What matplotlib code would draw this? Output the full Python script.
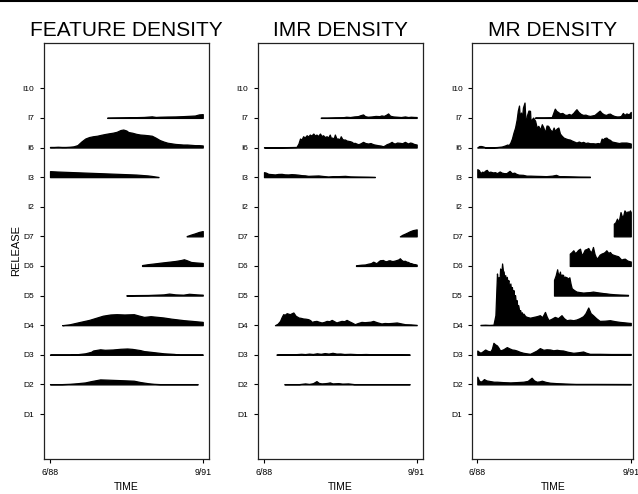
import matplotlib
matplotlib.use("Agg")
import matplotlib.pyplot as plt
from matplotlib.lines import Line2D
import numpy as np

plt.rcParams["font.family"] = ["Liberation Sans", "DejaVu Sans"]

# rows from bottom to top
RELEASES = ["D1", "D2", "D3", "D4", "D5", "D6", "D7", "I2", "I3", "I6", "I7", "I10"]
TIME_TICKS = [0, 39]          # months since 6/88
TIME_LABELS = ["6/88", "9/91"]
TITLES = ["FEATURE DENSITY", "IMR DENSITY", "MR DENSITY"]

# density per release as (month since 6/88, density) pairs
FEATURE = {
    "D2": [(0, 0.3), (3, 0.3), (5, 0.6), (7, 1.2), (9, 2), (10.5, 3.3), (12, 4.4), (12.8, 5),
           (15, 4.7), (17, 4.4), (19, 4.1), (21.4, 3.7), (23, 2.4), (25, 1.2), (26.5, 0.6),
           (28, 0.3), (37.7, 0.3)],
    "D3": [(0, 0.3), (5, 0.3), (7, 0.6), (9, 1.5), (10.5, 3), (11, 4.3), (12.8, 5.5), (14, 5),
           (16, 5.3), (18, 6), (19.7, 6.3), (21, 5.9), (23, 4.7), (24, 3.7), (25, 3.3),
           (27, 2.4), (29, 1.5), (31.6, 0.9), (33, 0.3), (39, 0.3)],
    "D4": [(3.1, 0), (5, 0.9), (7.7, 3.3), (10, 5.3), (12, 7.7), (13.5, 9.5), (15.4, 10.7),
           (17, 11), (19, 10.7), (21.4, 11), (22.5, 9.8), (24, 8.3), (25.7, 9), (29, 7.7),
           (31, 6.5), (34.2, 5), (36, 4.4), (39, 3.3)],
    "D5": [(19.5, 0.3), (22, 0.5), (25, 0.6), (27, 0.9), (29, 1.2), (30.4, 2), (32, 1.2),
           (34, 0.9), (35.5, 1.8), (37.5, 1.2), (39, 0.9)],
    "D6": [(23.5, 0.9), (25, 1.8), (27, 2.7), (28.2, 3.3), (30, 4.1), (32, 5), (33.5, 6),
           (34.2, 6.7), (35, 5.6), (36, 4), (37, 3.6), (38, 3.3), (39, 3)],
    "D7": [(34.9, 0.3), (36, 1.8), (37, 3), (38, 4.4), (39, 5.3)],
    "I3": [(0, 6), (2, 5.6), (4, 5.3), (6, 5), (8, 4.7), (10, 4.4), (12, 4.1), (14, 3.8),
           (16, 3.5), (18, 3.2), (20, 2.9), (22, 2.6), (24, 2), (25, 1.7), (26, 1.2),
           (27, 0.6), (27.7, 0.2)],
    "I6": [(0, 0.6), (1, 0.6), (2, 0.8), (3, 0.6), (4, 0.6), (5, 0.8), (6, 1.2), (7, 2.4),
           (8, 6), (9, 9), (10, 10.5), (11, 11.3), (12, 11.8), (13, 12.7), (14, 13.5),
           (15, 14.2), (16, 14.8), (17, 15.7), (18, 17.5), (18.7, 18), (19.5, 17), (20, 15.5),
           (21, 14.8), (22, 13.7), (23, 13), (24, 12.7), (25, 12.3), (26, 11.8), (27, 9.8),
           (28, 7.5), (29, 6), (30, 4.8), (31, 4.2), (32, 3.6), (33, 3.3), (34, 3), (35, 3),
           (36, 2.7), (37, 2.4), (38, 2.4), (39, 2.1)],
    "I7": [(14.6, 0.3), (16, 0.4), (18, 0.5), (20, 0.6), (22, 0.8), (24, 1), (26, 1.6),
           (27, 1), (28, 1.2), (30, 1.4), (32, 1.5), (34, 1.8), (36, 2.2), (37, 2.4),
           (38, 3.5), (39, 3.8)],
}

IMR = {
    "D2": [(5.2, 0.3), (9, 0.3), (10.5, 1), (11.5, 0.5), (12.5, 1.2), (13.4, 3.3), (14, 1.5),
           (14.7, 1), (15.5, 1.2), (16.2, 1.5), (16.8, 2), (17.5, 1), (19, 1.3), (20, 0.8),
           (21.5, 1), (23, 0.3), (37.2, 0.3)],
    "D3": [(3.2, 0.3), (6, 0.5), (8, 0.6), (9.5, 1), (10.5, 0.7), (11.5, 1.2), (12.5, 0.8),
           (13.5, 1.5), (14.5, 1), (15.5, 1.7), (16.5, 1.2), (17.5, 2), (18.5, 1.2),
           (19.5, 1.3), (20.5, 0.8), (22, 1), (24, 0.6), (26, 0.8), (28, 0.5), (30, 0.6),
           (33, 0.4), (37.2, 0.3)],
    "D4": [(2.8, 0), (3.5, 1.5), (4.1, 4.3), (4.5, 8), (4.9, 11), (5.3, 10.5), (5.8, 12),
           (6.2, 11.5), (6.6, 11), (7.1, 12), (7.5, 12.7), (8.1, 9.3), (8.5, 8.5), (8.8, 7.7),
           (9.4, 7.3), (10, 6.7), (10.6, 6.5), (11.3, 6), (11.8, 5), (12.2, 3.3), (12.8, 4),
           (13.4, 4.3), (14, 3.5), (14.7, 2.7), (15.3, 3.2), (16, 4.3), (16.7, 4), (17.3, 5.3),
           (17.9, 4), (18.5, 2.7), (19.1, 3.5), (19.8, 4.3), (20.5, 4), (21.1, 5.3), (21.7, 4),
           (22.4, 2.7), (23.2, 1), (24, 2.2), (24.9, 3.3), (25.7, 3), (26.6, 3.3), (27.2, 3.5),
           (27.9, 4.3), (28.8, 3), (30, 1.7), (30.8, 2.2), (31.7, 2), (32.8, 2.3), (33.9, 2.7),
           (35, 1.8), (36, 1), (37.5, 0.8), (39, 0.3)],
    "D6": [(23.5, 0.7), (24.9, 1.3), (25.8, 1.5), (26.6, 2.3), (27.3, 2.8), (27.9, 4.3),
           (28.7, 2.7), (29.2, 4.5), (29.6, 5.7), (30.4, 6), (30.8, 5), (31.3, 4.7), (31.7, 5.5),
           (32.1, 5.7), (32.6, 5), (33, 5), (33.5, 5.5), (33.9, 6), (34.3, 6.5), (34.7, 7.7),
           (35.1, 6), (35.5, 5), (36, 5.2), (36.4, 4.3), (36.8, 4), (37.2, 3), (37.6, 2.8),
           (38.1, 2), (38.6, 1.8), (39, 1.3)],
    "D7": [(34.7, 0), (35.3, 1.5), (36, 2.7), (36.6, 3.8), (37.2, 5), (38, 6.2), (39, 7)],
    "I3": [(0, 5), (0.5, 4.5), (1.1, 3.3), (2, 3), (2.8, 2.7), (3.6, 3.2), (4.5, 3.3),
           (5.3, 2.8), (6.2, 2.7), (7, 3), (7.9, 2.8), (8.7, 2.5), (9.6, 2), (10.5, 1.8),
           (11.3, 1.3), (12.5, 1.5), (13.9, 1.7), (15, 1.2), (16.4, 0.7), (17.5, 1), (19, 1),
           (20.7, 1.3), (22, 0.8), (23.2, 0.7), (25, 0.6), (26.5, 0.5), (28.3, 0.3)],
    "I6": [(0, 0.3), (4, 0.3), (7, 0.5), (8.3, 0.6), (8.8, 4), (9.2, 9), (9.6, 8), (10, 11.3),
           (10.4, 10), (10.9, 12.3), (11.3, 11), (11.7, 13), (12.1, 12), (12.6, 14), (13, 12),
           (13.4, 13), (13.8, 11.5), (14.3, 14), (14.7, 11.5), (15.1, 12.3), (15.5, 10.5),
           (16, 11.3), (16.4, 10), (16.8, 13), (17.1, 9.5), (17.4, 10), (17.8, 9), (18.1, 13),
           (18.5, 9), (19, 9), (19.3, 8), (19.6, 11.3), (20, 8.5), (20.3, 8), (20.7, 8),
           (21.1, 7), (21.5, 6.7), (22, 6.3), (22.4, 5.7), (22.8, 4.5), (23.2, 4.7), (23.6, 4),
           (24.1, 3.3), (24.7, 4.3), (25.3, 5.7), (25.9, 4.5), (26.6, 4), (27.2, 4.5),
           (27.9, 3.3), (28.5, 2.8), (29.2, 2.3), (29.8, 2), (30.4, 1.3), (30.9, 2.2),
           (31.3, 3.3), (32, 4.3), (32.6, 5.7), (33, 4.5), (33.4, 4), (34, 5), (34.7, 4.7),
           (35.3, 4.3), (36, 5.7), (36.4, 4.8), (36.8, 4), (37.3, 5), (37.7, 4.7), (38.3, 3.6),
           (39, 3)],
    "I7": [(14.5, 0.3), (16, 0.3), (18, 0.5), (20, 0.6), (21, 1.2), (22, 0.9), (23, 1.5),
           (24, 1.8), (24.6, 2.7), (25.3, 3.5), (25.8, 1.8), (26.5, 1.2), (27.5, 1.5),
           (28.5, 2), (29.5, 1.8), (30, 2.5), (30.6, 2), (31.2, 3.2), (31.7, 4.5), (32.2, 2.2),
           (33, 1.5), (34, 1.2), (35, 0.9), (36, 1.5), (36.8, 0.9), (37.5, 1.2), (38.3, 1),
           (39, 0.9)],
}

MR = {
    "D2": [(0, 7.7), (0.4, 4), (0.8, 2.7), (1.2, 3.5), (1.7, 5.3), (2.3, 4), (3.3, 3.3),
           (4.2, 2.7), (5, 2.7), (6.5, 2.3), (8.4, 2), (10, 2.3), (11.7, 2.7), (12.8, 3.5),
           (13.8, 6.7), (14.4, 4), (15.1, 2.7), (15.8, 3), (16.4, 3.7), (17.4, 2.5), (18.5, 1.7),
           (20, 1.3), (21.8, 1), (23.5, 0.7), (25, 0.5), (30, 0.5), (39, 0.4)],
    "D3": [(0, 4.3), (0.4, 3), (0.8, 2), (1.4, 3.5), (2, 5.3), (2.6, 4), (3.3, 3.3), (3.7, 6),
           (4.1, 12), (4.5, 10.5), (5, 9.3), (5.4, 7), (5.8, 4.3), (6.6, 5.5), (7.5, 7.7),
           (8.1, 6.5), (8.8, 5.3), (9.4, 5), (10, 4.3), (10.8, 3), (11.7, 2), (12.5, 1.5),
           (13.4, 1), (14.2, 2.5), (15.1, 4.3), (15.9, 6.7), (16.8, 5), (17.6, 5.5), (18.5, 5.3),
           (19.3, 4.5), (20.2, 5), (21, 4.5), (21.8, 4.3), (23, 3), (24.4, 2), (25.6, 2.5),
           (26.9, 3.3), (27.7, 2), (28.6, 1), (31, 1), (34, 0.8), (39, 0.8)],
    "D4": [(0.8, 0.3), (2, 0.5), (3, 0.3), (4.1, 0.5), (4.6, 10), (5, 51.7), (5.2, 44),
           (5.4, 48), (5.6, 42), (5.8, 56.7), (6.0, 50), (6.1, 52), (6.3, 61.7), (6.5, 55),
           (6.7, 53.3), (6.9, 46), (7.1, 50), (7.3, 44), (7.5, 48.3), (7.7, 42), (7.9, 45),
           (8.1, 38), (8.4, 41.7), (8.6, 35), (8.8, 38), (9.0, 31), (9.2, 35), (9.4, 27),
           (9.6, 30), (9.8, 22), (10, 25), (10.2, 17), (10.4, 20), (10.7, 13), (10.9, 15),
           (11.1, 10), (11.3, 13), (11.5, 9), (11.7, 11.7), (12.2, 9), (12.6, 8.3), (13.4, 7.5),
           (14.3, 8.3), (15.1, 9), (15.9, 10), (16.5, 8), (17.2, 13.3), (17.6, 9), (18.1, 5),
           (18.9, 6.5), (19.7, 8.3), (20.5, 7), (21.4, 10), (22, 7), (22.7, 5), (23.5, 5.5),
           (24.4, 5), (25.2, 5.7), (26, 7), (26.9, 9), (27.5, 12), (28.2, 17.7), (28.8, 12),
           (29.4, 10), (30.2, 7), (31.1, 4.3), (32.4, 4.5), (33.7, 5), (35, 4), (36.2, 3.3),
           (37.5, 2.8), (38.7, 2.3), (39, 2.3)],
    "D5": [(19.5, 15.7), (19.9, 20), (20.3, 26.3), (20.5, 21), (20.7, 22), (20.9, 19),
           (21, 24), (21.2, 18), (21.4, 21), (21.8, 20.7), (22.0, 16), (22.2, 19), (22.7, 18.3),
           (23, 17), (23.4, 18.3), (23.7, 12), (24, 7.3), (24.6, 5.5), (25.2, 4), (26, 3.5),
           (26.9, 3), (27.8, 3.3), (28.6, 3.5), (29.4, 4), (30.2, 3.5), (31.1, 3), (32, 2.5),
           (32.8, 2.2), (33.7, 1.7), (35, 1.3), (36.5, 1), (38.3, 0.7)],
    "D6": [(23.5, 12.3), (24, 14), (24.4, 15.7), (24.8, 13), (25.2, 14), (25.6, 16),
           (26.1, 17.3), (26.5, 10.7), (26.9, 13), (27.3, 16.3), (27.8, 17), (28.2, 18),
           (28.6, 15), (29, 14), (29.4, 19), (29.8, 12), (30.3, 7.3), (30.7, 9), (31.1, 11.3),
           (31.6, 12.5), (32, 13), (32.4, 14), (32.8, 15.7), (33.3, 13), (33.7, 14), (34.1, 12),
           (34.5, 11.3), (35.1, 10.5), (35.8, 9.7), (36.2, 8), (36.6, 6.3), (37, 7), (37.5, 7.3),
           (38.1, 5.5), (38.7, 4.7), (39, 4.5)],
    "D7": [(34.7, 12.7), (35.1, 14), (35.5, 17.7), (35.8, 14.3), (36.1, 18), (36.4, 24.3),
           (36.8, 19.3), (37.1, 21), (37.4, 26), (37.9, 23.3), (38.2, 25), (38.5, 24.3),
           (38.8, 26), (39, 24.3)],
    "I3": [(0, 8), (0.4, 7), (0.8, 4), (1.2, 5.5), (1.6, 5), (2, 6.5), (2.4, 7.3), (2.8, 5),
           (3.3, 5.5), (4, 4.7), (4.5, 5), (5, 4), (5.7, 5.7), (6.2, 4.5), (6.8, 4), (7.4, 4),
           (8.2, 6.3), (8.8, 4), (9.4, 4.5), (9.9, 3.3), (10.5, 2.5), (11.6, 2.3), (12.5, 1.5),
           (13.5, 1.5), (14.9, 1.3), (16, 1.2), (17.5, 1), (19, 1.5), (20, 2.3), (20.8, 1),
           (22, 1), (24, 0.8), (26, 0.6), (28.6, 0.5)],
    "I6": [(0, 0.2), (0.5, 1.5), (1, 1.5), (1.5, 1), (2, 0.3), (3, 0.3), (4, 0.3), (5, 0.5),
           (6.2, 1), (7, 2), (7.6, 3), (8, 2.5), (8.4, 5), (8.8, 9), (9.2, 15), (9.6, 20),
           (10, 28), (10.3, 37), (10.6, 42), (10.8, 30), (11.1, 35), (11.3, 28), (11.6, 40),
           (12, 45), (12.2, 30), (12.4, 25), (12.6, 32), (13, 37), (13.4, 36.7), (13.6, 22),
           (13.8, 28), (14.2, 30), (14.7, 26.7), (15.1, 20), (15.5, 21.7), (16, 18),
           (16.4, 23.3), (16.8, 20), (17.2, 15), (17.6, 22), (18, 21.7), (18.5, 18), (19, 16),
           (19.4, 20), (19.7, 16.7), (20.2, 19), (20.6, 20), (21, 14), (21.4, 12), (21.9, 10),
           (22.5, 9), (23, 8.3), (23.5, 8), (24, 7), (24.6, 6), (25.2, 5), (25.8, 6), (26.4, 5),
           (26.9, 5.7), (27.5, 4.5), (28, 5), (28.6, 4.3), (29.4, 4.3), (30, 4), (30.6, 4.5),
           (31.2, 4), (31.6, 9), (31.9, 8), (32.3, 9.5), (32.8, 10), (33.2, 8.5), (33.7, 7.7),
           (34.2, 6), (34.8, 5.5), (35.4, 5), (36, 4.5), (36.6, 5), (37.2, 5), (37.9, 5),
           (38.5, 4.5), (39, 4)],
    "I7": [(14.7, 0.5), (17, 0.5), (18.9, 0.6), (19.3, 5), (19.7, 9.3), (20.1, 7), (20.5, 6),
           (21, 4.5), (21.6, 5), (22.2, 3.3), (22.7, 3), (23.3, 4), (23.8, 3), (24.4, 5),
           (24.8, 7), (25.2, 8.7), (25.7, 6), (26.3, 4), (26.9, 3), (27.5, 3.3), (28, 2.5),
           (28.6, 2), (29.2, 2.5), (29.8, 3), (30.4, 5), (31.1, 7.3), (31.6, 5), (32.2, 3.5),
           (32.8, 3), (33.2, 4), (33.7, 4.3), (34.2, 3), (34.8, 2), (35.4, 1.5), (36, 1.5),
           (36.5, 2), (37, 5), (37.4, 3), (37.9, 4.5), (38.5, 3.5), (39, 6)],
}

# one density unit expressed in row spacings
DENSITY_SCALE = 1 / 29.6

# axes boxes (left, bottom, width, height) and time limits for each panel
PANEL_BOXES = [
    [0.0682, 0.0702, 0.2599, 0.8421],
    [0.4039, 0.0702, 0.2586, 0.8421],
    [0.7403, 0.0702, 0.2524, 0.8421],
]
PANEL_XLIM = [(-1.66, 40.68), (-1.61, 40.53), (-1.27, 39.66)]


def draw_panel(ax, density, title, xlim):
    for i, rel in enumerate(RELEASES):
        if rel not in density:
            continue
        pts = np.array(density[rel], dtype=float)
        t, h = pts[:, 0], pts[:, 1]
        base = i + 1
        ax.fill_between(t, base, base + h * DENSITY_SCALE,
                        facecolor="black", edgecolor="black", linewidth=0.9)
    ax.set_xlim(*xlim)
    ax.set_ylim(-0.53, 13.52)
    ax.set_xticks(TIME_TICKS)
    ax.set_xticklabels(TIME_LABELS)
    ax.set_yticks(np.arange(1, len(RELEASES) + 1))
    ax.set_yticklabels(RELEASES)
    ax.tick_params(axis="x", direction="out", length=3, width=0.8, labelsize=6.3, pad=3.2)
    ax.tick_params(axis="y", direction="out", length=3, width=0.8, labelsize=6, pad=4)
    for sp in ax.spines.values():
        sp.set_linewidth(0.9)
        sp.set_color("#222222")
    ax.set_title(title, fontsize=15, pad=5)


fig = plt.figure(figsize=(6.38, 4.94), dpi=100)
for box, dens, title, xlim in zip(PANEL_BOXES, [FEATURE, IMR, MR], TITLES, PANEL_XLIM):
    ax = fig.add_axes(box)
    draw_panel(ax, dens, title, xlim)
    fig.text(box[0] + box[2] / 2, 1 - 487 / 494, "TIME", ha="center", va="center", fontsize=7.5)

fig.text(16 / 638, 1 - 251 / 494, "RELEASE", rotation=90, ha="center", va="center", fontsize=8)
fig.add_artist(Line2D([0, 1], [0.997, 0.997], color="black", linewidth=1.5))

fig.savefig("out.png", dpi=100)
